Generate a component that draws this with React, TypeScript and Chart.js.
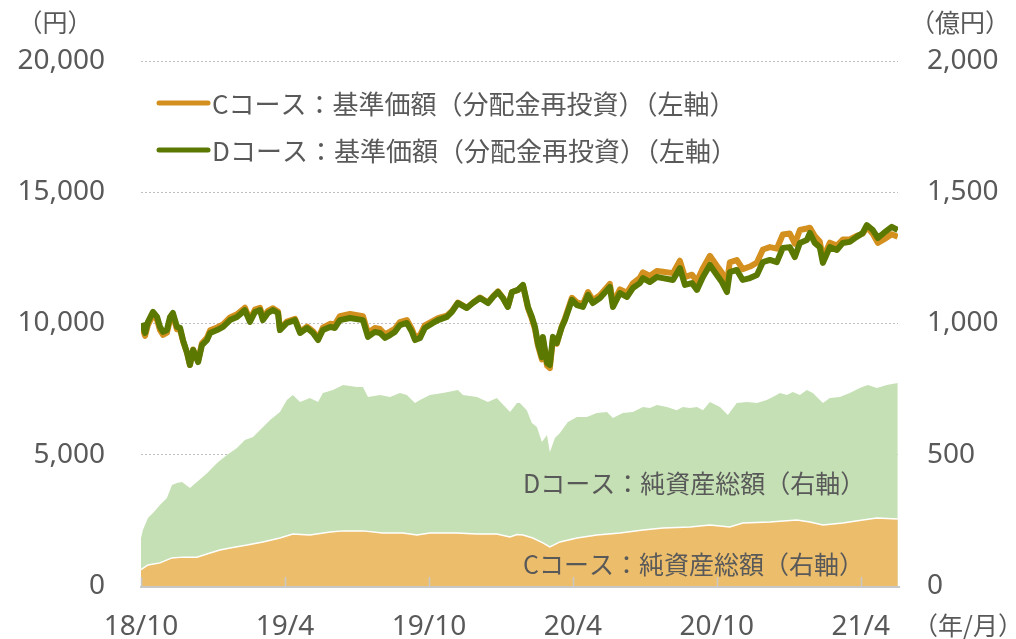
import React, { useEffect, useRef } from "react";
import { Chart, registerables } from "chart.js";

Chart.register(...registerables);

// x values are months elapsed since 2018/10
const tickMonths = [0, 6, 12, 18, 24, 30];
const tickLabels = ["18/10", "19/4", "19/10", "20/4", "20/10", "21/4"];

const navMonths = [
  0.04, 0.17, 0.29, 0.5, 0.67, 0.79, 0.92, 1.08, 1.21, 1.33, 1.5, 1.63, 1.75, 1.92, 2.04, 2.17, 2.38, 2.54, 2.75, 2.88,
  3.17, 3.42, 3.71, 4.0, 4.33, 4.54, 4.75, 4.96, 5.08, 5.29, 5.5, 5.71, 5.79, 6.08, 6.42, 6.63, 6.92, 7.17, 7.38, 7.58,
  7.88, 8.08, 8.29, 8.71, 9.25, 9.46, 9.75, 9.96, 10.17, 10.38, 10.58, 10.79, 11.08, 11.29, 11.42, 11.63, 11.83, 12.17, 12.38, 12.75,
  12.96, 13.21, 13.58, 13.83, 14.13, 14.46, 14.67, 14.88, 15.08, 15.29, 15.46, 15.71, 15.92, 16.13, 16.29, 16.42, 16.54, 16.71, 16.75, 16.92,
  17.04, 17.17, 17.33, 17.54, 17.67, 17.96, 18.17, 18.42, 18.63, 18.83, 19.13, 19.54, 19.67, 19.96, 20.25, 20.5, 20.79, 20.92, 21.21, 21.5,
  21.75, 22.17, 22.46, 22.67, 22.96, 23.17, 23.42, 23.71, 24.0, 24.21, 24.42, 24.54, 24.83, 25.08, 25.38, 25.67, 25.92, 26.21, 26.5, 26.75,
  27.04, 27.25, 27.46, 27.75, 27.88, 28.08, 28.29, 28.42, 28.71, 29.0, 29.25, 29.54, 29.83, 30.08, 30.25, 30.5, 30.71, 30.96, 31.29, 31.54,
];

const navD = [
  10020, 9640, 10060, 10440, 10250, 9870, 9680, 9750, 10250, 10400, 9870, 9830, 9370, 8880, 8420, 8990, 8530, 9180, 9370, 9640,
  9750, 9870, 10130, 10250, 10510, 10060, 10440, 10510, 10130, 10400, 10510, 10400, 9750, 10020, 10130, 9640, 9830, 9640, 9370, 9750,
  9870, 9830, 10130, 10210, 10130, 9490, 9680, 9640, 9450, 9560, 9680, 9940, 10020, 9680, 9370, 9450, 9830, 10020, 10130, 10250,
  10440, 10780, 10590, 10780, 10970, 10780, 11010, 11200, 10970, 10630, 11200, 11280, 11470, 10630, 10250, 9870, 9260, 8720, 9490, 8500,
  8420, 9490, 9260, 9870, 10130, 10900, 10700, 10630, 11090, 10780, 10970, 11390, 10630, 11160, 11010, 11350, 11540, 11730, 11580, 11770,
  11730, 11660, 12110, 11470, 11540, 11280, 11770, 12230, 11850, 11580, 11200, 11960, 12040, 11660, 11730, 11850, 12340, 12420, 12340, 12880,
  12910, 12530, 13070, 13180, 13450, 13070, 12910, 12310, 12910, 12800, 13070, 13110, 13300, 13450, 13750, 13560, 13260, 13450, 13680, 13560,
];

const navC = [
  9900, 9530, 9950, 10330, 10140, 9760, 9570, 9650, 10150, 10300, 9780, 9760, 9330, 8870, 8420, 9010, 8570, 9250, 9460, 9740,
  9850, 9970, 10230, 10350, 10600, 10150, 10530, 10600, 10220, 10480, 10580, 10460, 9800, 10070, 10180, 9690, 9880, 9700, 9440, 9840,
  9990, 9970, 10280, 10360, 10280, 9640, 9830, 9790, 9590, 9690, 9800, 10050, 10130, 9790, 9480, 9560, 9930, 10100, 10200, 10300,
  10480, 10800, 10600, 10790, 10990, 10800, 11030, 11220, 10990, 10650, 11200, 11270, 11450, 10580, 10180, 9790, 9170, 8630, 9400, 8400,
  8300, 9430, 9230, 9900, 10190, 10980, 10800, 10740, 11200, 10890, 11080, 11510, 10760, 11300, 11170, 11530, 11740, 11950, 11810, 12000,
  11970, 11920, 12390, 11770, 11860, 11610, 12110, 12580, 12200, 11940, 11560, 12330, 12420, 12070, 12170, 12320, 12820, 12910, 12850, 13390,
  13430, 13040, 13560, 13620, 13650, 13330, 13120, 12500, 13080, 12970, 13200, 13200, 13340, 13420, 13680, 13420, 13070, 13200, 13400, 13300,
];

const assetDMonths = [
  0.0, 0.08, 0.29, 0.5, 0.79, 1.08, 1.29, 1.5, 1.71, 2.04, 2.33, 2.75, 3.17, 3.58, 4.0, 4.33, 4.67, 4.96, 5.38, 5.79,
  6.08, 6.33, 6.63, 7.04, 7.38, 7.58, 8.0, 8.42, 9.0, 9.25, 9.46, 9.96, 10.38, 10.79, 11.08, 11.42, 11.63, 12.04, 12.58, 13.21,
  13.42, 14.0, 14.46, 14.83, 15.38, 15.67, 15.79, 16.08, 16.29, 16.5, 16.71, 16.92, 17.04, 17.25, 17.46, 17.79, 18.17, 18.58, 19.0, 19.42,
  19.67, 20.08, 20.5, 20.92, 21.21, 21.5, 21.92, 22.33, 22.58, 22.88, 23.17, 23.42, 23.71, 24.13, 24.46, 24.83, 25.25, 25.67, 26.08, 26.33,
  26.63, 26.92, 27.17, 27.46, 27.75, 28.0, 28.42, 28.71, 29.13, 29.54, 29.96, 30.29, 30.67, 31.08, 31.54,
];

const assetD = [
  183, 213, 259, 278, 309, 335, 385, 392, 396, 373, 396, 430, 469, 499, 526, 556, 568, 594, 632, 663,
  709, 728, 701, 716, 701, 735, 747, 766, 758, 758, 720, 728, 720, 735, 728, 697, 709, 728, 735, 747,
  728, 720, 701, 716, 663, 697, 697, 670, 621, 606, 549, 575, 510, 564, 583, 625, 644, 644, 659, 663,
  640, 659, 663, 682, 678, 690, 682, 670, 682, 678, 682, 670, 701, 682, 651, 697, 701, 697, 709, 720,
  735, 728, 739, 728, 747, 735, 697, 716, 720, 735, 754, 766, 754, 766, 773,
];

const assetCMonths = [
  0.0, 0.29, 0.79, 1.29, 1.75, 2.33, 2.88, 3.29, 3.71, 4.42, 5.08, 5.79, 6.33, 7.04, 7.88, 8.42, 9.25, 10.08, 10.92, 11.5,
  12.04, 13.17, 14.0, 14.83, 15.38, 15.67, 15.92, 16.33, 16.75, 17.04, 17.46, 18.17, 19.0, 19.96, 20.92, 21.75, 22.88, 23.71, 24.54, 25.08,
  26.21, 27.33, 27.88, 28.42, 29.25, 30.08, 30.67, 31.54,
];

const assetC = [
  62, 80, 88, 107, 110, 110, 126, 137, 145, 156, 168, 183, 198, 194, 206, 210, 210, 202, 202, 194,
  202, 202, 198, 198, 187, 196, 194, 183, 164, 149, 168, 183, 194, 202, 213, 221, 225, 232, 225, 240,
  244, 251, 244, 232, 240, 251, 259, 255,
];

const TEXT = "#595959";
const JP = '"Noto Sans CJK JP", "Noto Sans", sans-serif';
const NUM = '"Noto Sans", "Noto Sans CJK JP", sans-serif';

const pts = (xs: number[], ys: number[]) => xs.map((x, i) => ({ x, y: ys[i] }));

const overlayPlugin = {
  id: "overlay",
  afterDatasetsDraw(chart: any) {
    const ctx = chart.ctx;
    const area = chart.chartArea;
    const xs = chart.scales.x;
    ctx.save();
    // x axis line and inward ticks
    ctx.strokeStyle = "#c8c8c8";
    ctx.lineWidth = 2;
    ctx.beginPath();
    ctx.moveTo(area.left - 1, area.bottom + 1);
    ctx.lineTo(area.right + 2, area.bottom + 1);
    ctx.stroke();
    ctx.lineWidth = 1.5;
    tickMonths.forEach((m) => {
      const px = Math.round(xs.getPixelForValue(m)) + 0.5;
      ctx.beginPath();
      ctx.moveTo(px, area.bottom);
      ctx.lineTo(px, area.bottom - 9);
      ctx.stroke();
    });
    // legend
    const legend = [
      { color: "#D4901E", text: "Cコース：基準価額（分配金再投資）（左軸）", y: 103 },
      { color: "#5B7800", text: "Dコース：基準価額（分配金再投資）（左軸）", y: 150 },
    ];
    ctx.lineCap = "round";
    legend.forEach((l) => {
      ctx.strokeStyle = l.color;
      ctx.lineWidth = 5;
      ctx.beginPath();
      ctx.moveTo(159, l.y);
      ctx.lineTo(208, l.y);
      ctx.stroke();
      ctx.fillStyle = TEXT;
      ctx.font = `26px ${JP}`;
      ctx.textAlign = "left";
      ctx.textBaseline = "middle";
      ctx.fillText(l.text, 212, l.y + 1);
    });
    // area labels
    ctx.font = `25px ${JP}`;
    ctx.fillStyle = TEXT;
    ctx.fillText("Dコース：純資産総額（右軸）", 523, 483);
    ctx.fillText("Cコース：純資産総額（右軸）", 523, 564);
    // axis titles
    ctx.font = `25px ${JP}`;
    ctx.textAlign = "center";
    ctx.fillText("（円）", 55, 22);
    ctx.fillText("（億円）", 960, 22);
    ctx.fillText("（年/月）", 968, 625);
    ctx.restore();
  },
};

export default function App() {
  const ref = useRef<HTMLCanvasElement>(null);
  useEffect(() => {
    document.body.style.margin = "0";
    const chart = new Chart(ref.current as HTMLCanvasElement, {
      type: "line",
      data: {
        datasets: [
          {
            label: "Dコース：基準価額（分配金再投資）（左軸）",
            data: pts(navMonths, navD),
            borderColor: "#5B7800",
            borderWidth: 6,
            borderJoinStyle: "round",
            pointRadius: 0,
            fill: false,
            yAxisID: "y",
            order: 0,
          },
          {
            label: "Cコース：基準価額（分配金再投資）（左軸）",
            data: pts(navMonths, navC),
            borderColor: "#D4901E",
            borderWidth: 6,
            borderJoinStyle: "round",
            pointRadius: 0,
            fill: false,
            yAxisID: "y",
            order: 1,
          },
          {
            label: "Cコース：純資産総額（右軸）",
            data: pts(assetCMonths, assetC),
            borderColor: "#ffffff",
            borderWidth: 1.5,
            backgroundColor: "#ECBE6C",
            pointRadius: 0,
            fill: "origin",
            yAxisID: "y2",
            order: 2,
          },
          {
            label: "Dコース：純資産総額（右軸）",
            data: pts(assetDMonths, assetD),
            borderColor: "rgba(0,0,0,0)",
            borderWidth: 0,
            backgroundColor: "#C5E0B4",
            pointRadius: 0,
            fill: "origin",
            yAxisID: "y2",
            order: 3,
          },
        ],
      },
      options: {
        animation: false,
        responsive: false,
        devicePixelRatio: 1,
        layout: { padding: { top: 61, left: 0, right: 0, bottom: 0 } },
        plugins: { legend: { display: false }, tooltip: { enabled: false } },
        scales: {
          x: {
            type: "linear",
            min: 0,
            max: 31.55,
            grid: { display: false },
            border: { display: false },
            afterBuildTicks: (s: any) => {
              s.ticks = tickMonths.map((v) => ({ value: v }));
            },
            afterFit: (s: any) => {
              s.height = 53;
            },
            ticks: {
              autoSkip: false,
              maxRotation: 0,
              padding: 16,
              color: TEXT,
              font: { family: NUM, size: 28 },
              callback: (v: any) => tickLabels[tickMonths.indexOf(Number(v))] ?? "",
            },
          },
          y: {
            position: "left",
            min: 0,
            max: 20000,
            grid: { color: "#bfbfbf", lineWidth: 1, drawTicks: false, tickLength: 0 },
            border: { display: false, dash: [2, 2] },
            afterFit: (s: any) => {
              s.width = 141;
            },
            ticks: {
              stepSize: 5000,
              padding: 36,
              color: TEXT,
              font: { family: NUM, size: 28 },
              callback: (v: any) => Number(v).toLocaleString("en-US"),
            },
          },
          y2: {
            position: "right",
            min: 0,
            max: 2000,
            grid: { display: false, drawTicks: false, tickLength: 0 },
            border: { display: false },
            afterFit: (s: any) => {
              s.width = 118;
            },
            ticks: {
              stepSize: 500,
              padding: 29,
              color: TEXT,
              font: { family: NUM, size: 28 },
              callback: (v: any) => Number(v).toLocaleString("en-US"),
            },
          },
        },
      },
      plugins: [overlayPlugin],
    } as any);
    return () => chart.destroy();
  }, []);
  return (
    <div style={{ position: "fixed", left: 0, top: 0, width: 1016, height: 639 }}>
      <canvas ref={ref} width={1016} height={639} />
    </div>
  );
}
